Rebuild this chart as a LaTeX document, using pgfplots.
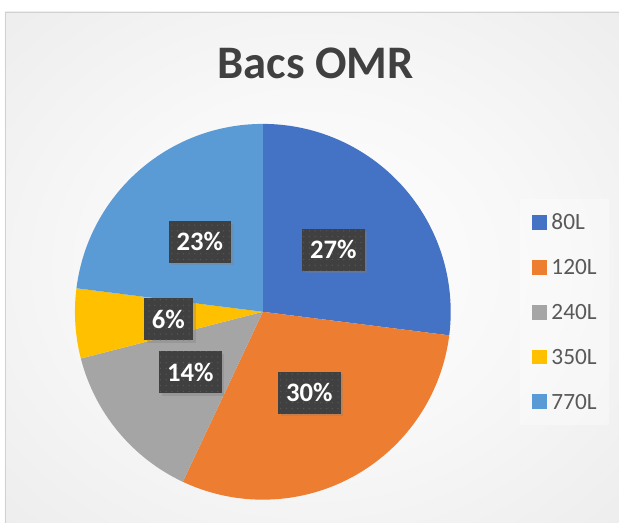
\documentclass[border=0pt]{standalone}
\usepackage{pgfplots}
\pgfplotsset{compat=1.18}
\usepackage{fontspec}
\setmainfont{Carlito}
\usetikzlibrary{shadows,patterns.meta}

\definecolor{c1}{HTML}{4472C4}
\definecolor{c2}{HTML}{ED7D31}
\definecolor{c3}{HTML}{A5A5A5}
\definecolor{c4}{HTML}{FFC000}
\definecolor{c5}{HTML}{5B9BD5}
\definecolor{titlec}{HTML}{404040}
\definecolor{legc}{HTML}{595959}
\definecolor{lblbg}{HTML}{404040}
\definecolor{dotc}{HTML}{575757}

\pgfdeclareradialshading{bgshade}{\pgfpoint{0bp}{0bp}}{color(0bp)=(white); color(18bp)=(white!97!black); color(71bp)=(black!15)}

\pgfplotsset{
  sqleg/.style={legend image code/.code={\fill[#1] (0pt,-5.25pt) rectangle (10.5pt,5.25pt);}},
}
\tikzset{
  lbl/.style={fill=lblbg, text=white, font=\fontsize{20}{22}\selectfont\bfseries,
    minimum height=31.5pt, inner xsep=6pt, inner ysep=0pt,
    postaction={pattern={Dots[distance=4.3pt,radius=0.55pt]}, pattern color=dotc},
    drop shadow={shadow xshift=2pt,shadow yshift=-2pt,opacity=0.35}},
}

\begin{document}
\begin{tikzpicture}
\begin{axis}[
  x=0.75pt, y=0.75pt,
  xmin=-263, xmax=356, ymin=-211, ymax=312,
  hide axis, clip=false,
  legend style={at={(axis cs:269,0)}, anchor=west, draw=none, fill=none,
    inner sep=0pt, row sep=21.75pt, column sep=3.75pt,
    font=\fontsize{17.5}{20}\selectfont, text=legc,
    nodes={inner sep=0pt, text height=12pt, text depth=0pt}},
  legend cell align=left,
]
% background
\fill[white] (axis cs:-263,-211) rectangle (axis cs:356,312);
\shade[shading=bgshade] (axis cs:-258,-211) rectangle (axis cs:356,300);
\draw[black!18, line width=0.6pt] (axis cs:356,300) -- (axis cs:-258,300) -- (axis cs:-258,-211);

% title
\node[font=\fontsize{35}{40}\selectfont\bfseries, text=titlec] at (axis cs:53,249) {Bacs OMR};

% pie slices, clockwise from the top
\pgfmathsetmacro\start{90}
\foreach \v/\c in {27/c1, 30/c2, 14/c3, 6/c4, 23/c5}{
  \pgfmathsetmacro\e{\start-3.6*\v}
  \edef\temp{\noexpand\fill[\c] (axis cs:0,0) -- (axis cs:{188*cos(\start)},{188*sin(\start)}) arc[start angle=\start, end angle=\e, radius=141pt] -- cycle;}
  \temp
  \global\let\start\e
}

% data labels
\foreach \x/\y/\t in {70.5/62/27, 46.5/-81/30, -72.5/-60.5/14, -94.5/-7.5/6, -63/70/23}{
  \edef\temp{\noexpand\node[lbl] at (axis cs:\x,\y) {\t\noexpand\%};}
  \temp
}

% legend panel
\fill[white, opacity=0.35] (axis cs:257,113) rectangle (axis cs:346,-113);

\addlegendimage{sqleg=c1}
\addlegendentry{80L}
\addlegendimage{sqleg=c2}
\addlegendentry{120L}
\addlegendimage{sqleg=c3}
\addlegendentry{240L}
\addlegendimage{sqleg=c4}
\addlegendentry{350L}
\addlegendimage{sqleg=c5}
\addlegendentry{770L}
\end{axis}
\end{tikzpicture}
\end{document}
